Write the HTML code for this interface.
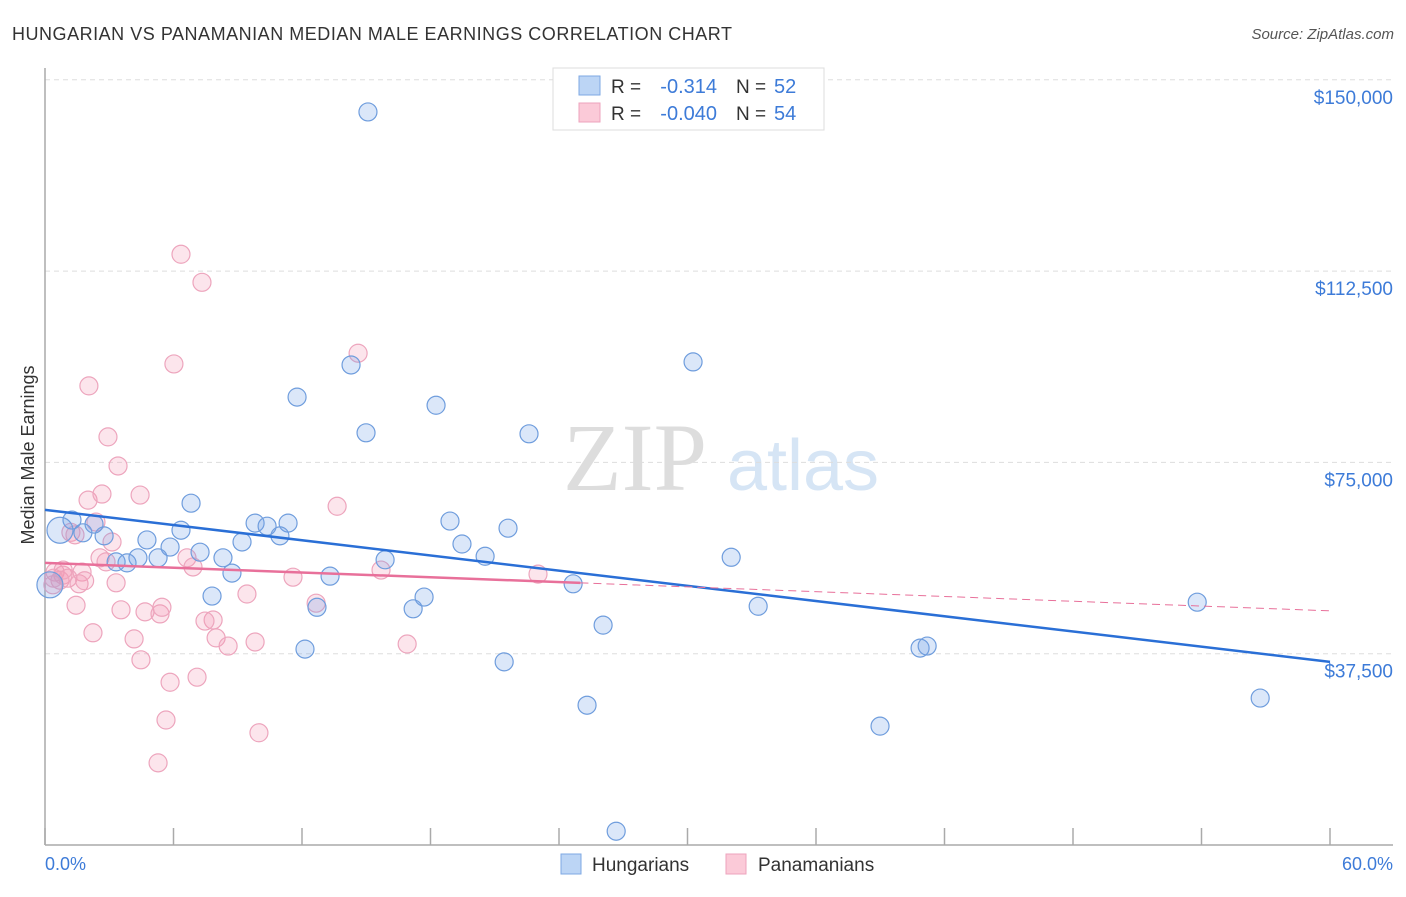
<!DOCTYPE html>
<html><head><meta charset="utf-8"><style>
body{margin:0;background:#fff;font-family:"Liberation Sans",sans-serif}
</style></head><body>
<svg width="1406" height="892" viewBox="0 0 1406 892" xmlns="http://www.w3.org/2000/svg">
<text x="12" y="40" font-size="18" fill="#333" textLength="720">HUNGARIAN VS PANAMANIAN MEDIAN MALE EARNINGS CORRELATION CHART</text>
<text x="1394" y="39" font-size="15" fill="#555" font-style="italic" text-anchor="end">Source: ZipAtlas.com</text>
<g>
<text x="635" y="490" font-size="96" fill="#ddd" font-family="Liberation Serif,serif" text-anchor="middle">ZIP</text>
<text x="803" y="490" font-size="72" fill="#d6e5f5" text-anchor="middle">atlas</text>
</g>
<g id="grid"></g>
<g id="axes"></g>
<text transform="translate(34,455) rotate(-90)" font-size="18" fill="#333" text-anchor="middle">Median Male Earnings</text>
<text x="45" y="870" font-size="18" fill="#3d7bd8">0.0%</text>
<text x="1393" y="870" font-size="18" fill="#3d7bd8" text-anchor="end">60.0%</text>
<g id="pts"></g>
<g id="trends"></g>
<g>
<rect x="553" y="68" width="271" height="62" fill="#fff" stroke="#ddd"/>
<rect x="579" y="76" width="21" height="19" fill="#bcd5f5" stroke="#7ea8e3"/>
<rect x="579" y="103" width="21" height="19" fill="#fbcad8" stroke="#eea3bd"/>
<text x="611" y="93" font-size="19" fill="#333">R =</text>
<text x="717" y="93" font-size="20" fill="#3d7bd8" text-anchor="end">-0.314</text>
<text x="736" y="93" font-size="19" fill="#333">N =</text>
<text x="774" y="93" font-size="20" fill="#3d7bd8">52</text>
<text x="611" y="120" font-size="19" fill="#333">R =</text>
<text x="717" y="120" font-size="20" fill="#3d7bd8" text-anchor="end">-0.040</text>
<text x="736" y="120" font-size="19" fill="#333">N =</text>
<text x="774" y="120" font-size="20" fill="#3d7bd8">54</text>
</g>
<g>
<rect x="561" y="854" width="20" height="20" fill="#bcd5f5" stroke="#7ea8e3"/>
<text x="592" y="871" font-size="19" fill="#333">Hungarians</text>
<rect x="726" y="854" width="20" height="20" fill="#fbcad8" stroke="#eea3bd"/>
<text x="758" y="871" font-size="19" fill="#333">Panamanians</text>
</g>
</svg>
<script>
const yTicks=[37500,75000,112500,150000];
const yTickLabels=["$37,500","$75,000","$112,500","$150,000"];
const xTicks=[0,6,12,18,24,30,36,42,48,54,60];
const blueX=[15.08,11.77,30.26,14.29,18.26,14.99,22.60,6.82,1.26,0.70,1.77,2.76,2.29,4.76,6.35,5.84,7.24,5.28,4.34,3.32,3.83,9.81,10.37,11.35,10.97,9.20,8.31,8.73,7.80,13.31,12.70,12.14,15.88,17.19,17.70,18.91,19.47,20.55,21.62,24.66,26.06,21.44,25.31,26.67,32.04,33.30,40.86,41.19,38.99,53.80,56.74,0.23];
const blueY=[143700,87800,94700,94100,86200,80800,80600,67000,63700,61700,61200,60600,62900,59800,61700,58400,57400,56300,56300,55500,55300,63100,62500,63100,60600,59400,56300,53300,48800,52700,46600,38400,55900,46300,48600,63500,59000,56600,62100,51200,43100,35900,27400,2700,56400,46800,38600,39000,23300,47600,28800,51000];
const pinkX=[6.35,7.33,6.02,14.62,2.05,2.94,3.41,4.44,2.01,2.66,13.64,2.38,1.21,1.40,3.13,2.57,2.85,6.63,6.91,1.73,0.47,0.84,0.70,1.07,0.37,1.59,3.32,11.58,15.69,23.02,1.45,3.55,4.67,5.37,5.46,9.43,2.24,4.16,7.99,7.85,7.47,8.55,9.81,16.91,12.66,4.48,5.84,7.10,5.65,9.99,5.28,0.40,0.85,1.85];
const pinkY=[115800,110300,94300,96400,90000,80000,74300,68600,67600,68800,66400,63300,61300,60800,59400,56300,55500,56300,54500,53500,53500,52900,51900,52300,51000,51200,51400,52500,53900,53100,47000,46100,45700,45300,46600,49200,41600,40400,40600,44100,43900,39000,39800,39400,47400,36300,31900,32900,24500,22000,16100,52300,53900,51800];
const blueTrend=[65700,35900];
const pinkTrend=[55300,45900];
const pinkSolidEnd=25;
const X=v=>45+v/60*1285;
const Y=v=>845-v/37500*191.3;
const NS="http://www.w3.org/2000/svg";
function mk(tag,attrs,parent){const e=document.createElementNS(NS,tag);for(const k in attrs)e.setAttribute(k,attrs[k]);parent.appendChild(e);return e;}
const grid=document.getElementById('grid');
yTicks.forEach((t,i)=>{
 const l=mk('line',{x1:45,x2:1393,y1:Y(t),y2:Y(t),stroke:'#ddd','stroke-dasharray':'5,4'},grid);
 
 
 const tx=mk('text',{x:1393,y:Y(t)+24,'font-size':19,fill:'#3d7bd8','text-anchor':'end'},grid);
 tx.textContent=yTickLabels[i];
 
 
});
const ax=document.getElementById('axes');
const a1=mk('line',{x1:45,x2:45,y1:68,y2:845,stroke:'#aaa','stroke-width':1.5},ax);


const a2=mk('line',{x1:45,x2:1393,y1:845,y2:845,stroke:'#aaa','stroke-width':1.5},ax);


xTicks.forEach(t=>{
 const l=mk('line',{x1:X(t),x2:X(t),y1:828,y2:845,stroke:'#aaa','stroke-width':1.5},ax);
 
 
});
const pts=document.getElementById('pts');
pinkX.forEach((x,i)=>{
 const c=mk('circle',{cx:X(x),cy:Y(pinkY[i]),r:9,fill:'rgba(244,150,180,0.25)',stroke:'#eda5bd','stroke-width':1.2},pts);
 
 
});
blueX.forEach((x,i)=>{
 const big=(i===9||i===51);
 const c=mk('circle',{cx:X(x),cy:Y(blueY[i]),r:big?13:9,fill:'rgba(110,160,230,0.25)',stroke:'#6f9ddd','stroke-width':1.2},pts);
 
 
});
const tr=document.getElementById('trends');
const bl=mk('line',{x1:X(0),y1:Y(blueTrend[0]),x2:X(60),y2:Y(blueTrend[1]),stroke:'#2a6fd6','stroke-width':2.5},tr);


const pAt=x=>pinkTrend[0]+(pinkTrend[1]-pinkTrend[0])*x/60;
const ps=mk('line',{x1:X(0),y1:Y(pinkTrend[0]),x2:X(pinkSolidEnd),y2:Y(pAt(pinkSolidEnd)),stroke:'#e8709a','stroke-width':2.5},tr);


const pd=mk('line',{x1:X(pinkSolidEnd),y1:Y(pAt(pinkSolidEnd)),x2:X(60),y2:Y(pinkTrend[1]),stroke:'#e8709a','stroke-width':1,'stroke-dasharray':'8,5'},tr);


</script>
</body></html>
